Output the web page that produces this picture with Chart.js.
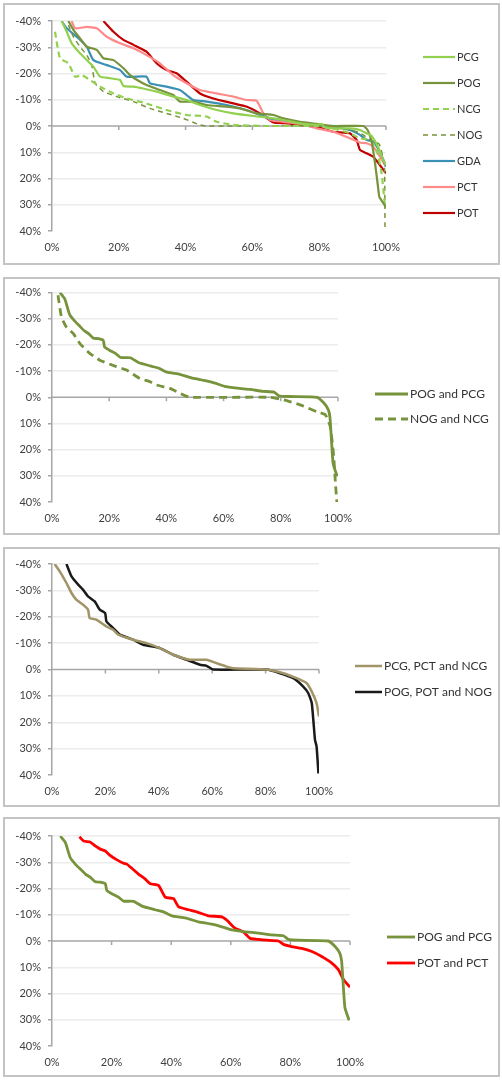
<!DOCTYPE html>
<html>
<head>
<meta charset="utf-8">
<script src="https://cdn.jsdelivr.net/npm/chart.js@4.4.0/dist/chart.umd.min.js"></script>
<style>
  body { margin: 0; background: #fff; width: 502px; height: 1080px; position: relative; overflow: hidden; }
  .panel { position: absolute; left: 3px; width: 493px; border: 2px solid #c4c4c4; background: #fff; }
  .panel canvas { display: block; }
</style>
</head>
<body>
<div class="panel" style="top:3px;height:258px"><canvas id="c1" width="493" height="258"></canvas></div>
<div class="panel" style="top:277px;height:254px"><canvas id="c2" width="493" height="254"></canvas></div>
<div class="panel" style="top:547px;height:256px"><canvas id="c3" width="493" height="256"></canvas></div>
<div class="panel" style="top:817px;height:256px"><canvas id="c4" width="493" height="256"></canvas></div>

<script>
/* ---------- Data (x = share of cases %, y = deviation %) ---------- */
const xTicks = [0, 20, 40, 60, 80, 100];
const yTicks = [-40, -30, -20, -10, 0, 10, 20, 30, 40];

// panel 1
const PCG = [[2.9,-40],[4.4,-35.9],[5.9,-31.5],[8.4,-27.7],[10.9,-24.5],[12.4,-22.6],[14.4,-18.8],[17.4,-18.2],[20.4,-17.5],[21.4,-15.2],[24.4,-15],[27.3,-14.3],[31.3,-13.1],[36.3,-11.2],[40.3,-9.9],[44.3,-8],[49.3,-6.1],[54.3,-4.8],[60.3,-3.8],[64.3,-3.3],[69.3,-2.3],[74.3,-1.0],[79.2,-0.4],[80.7,-0.8],[81.7,0.5],[84.2,0.9],[89.2,0.9],[92.2,1.5],[94.2,2.8],[95.7,3.8],[97.7,8.2],[99.2,13],[100,15]];
const POG = [[4.9,-40],[6.4,-36.6],[8.4,-33.4],[10.4,-30.2],[13.4,-29],[15.4,-25.8],[18.4,-25.1],[21.4,-22],[23.4,-19.4],[25.5,-17.5],[28.3,-15.6],[32.3,-13.7],[36.3,-11.8],[38.3,-9.3],[42.3,-9.3],[46.3,-8],[52.3,-7.4],[56.3,-6.7],[61.3,-4.8],[66.3,-4.2],[69.3,-2.9],[74.3,-1.6],[79.2,-0.8],[84.2,0],[93.2,0],[94.5,1.5],[95.7,6],[96.7,14],[97.5,22],[98,27],[99,29],[100,31]];
const NCG = [[0.9,-35.9],[2.4,-25.8],[4.9,-23.9],[6.9,-18.8],[8.9,-19.4],[11.4,-17.5],[14.4,-15],[18.4,-12.4],[22.4,-10.5],[28.3,-8.6],[34.3,-6.1],[40.3,-4.2],[46.3,-3.6],[49.3,-1.6],[54.3,-0.4],[64.3,0],[79.2,0],[84.2,0.9],[89.2,2.8],[92.2,4.7],[95.2,5.3],[97.2,9.1],[98.7,18],[99.7,30.7]];
const NOG = [[4.9,-38.5],[6.4,-34],[8.4,-30.2],[10.4,-27],[11.9,-23.2],[12.9,-16.3],[15.4,-13.1],[19.4,-11.2],[24.4,-9.3],[29.3,-6.7],[34.3,-4.8],[39.3,-2.9],[44.3,-0.4],[46.3,0],[84.2,0],[89.2,1.5],[92,2.5],[95,5],[98,7],[99.5,15],[99.7,40]];
const GDA = [[2.9,-40],[4.4,-37.2],[7.4,-34],[10.4,-30.2],[12.4,-25.1],[16.4,-23.2],[20.4,-21.3],[22.4,-18.8],[28.3,-18.8],[29.3,-16.3],[34.3,-15],[38.3,-13.7],[40.3,-11.8],[42.3,-9.9],[46.3,-9.3],[52.3,-8],[58.2,-6.1],[62.3,-4.2],[65.3,-2.9],[69.3,-2.3],[74.3,-1.3],[79.2,-0.4],[84.2,0.3],[89.2,1.5],[92.2,3.4],[94.2,5.3],[96.2,6],[98.2,9.8],[100,15.5]];
const PCT = [[5.9,-40],[6.9,-37.2],[10.4,-37.8],[13.4,-37.2],[16.4,-34],[20.4,-31.5],[24.4,-29.6],[28.3,-27],[32.3,-23.9],[36.3,-19.4],[40.3,-16.3],[44.3,-13.7],[49.3,-12.4],[54.3,-11.2],[58.2,-9.9],[61.3,-9.6],[63.3,-4.8],[65.3,-2.3],[69.3,-1.6],[74.3,-0.8],[79.2,0.9],[84.2,2.2],[89.2,4.7],[92.2,6.3],[94.2,6.6],[96.2,7.9],[98.2,11.7],[100,15.5]];
const POT = [[15.4,-40],[18.4,-35.9],[21.4,-32.8],[24.4,-30.9],[28.3,-28.3],[31.3,-23.9],[34.3,-21.3],[37.3,-20.1],[40.3,-16.9],[44.3,-12.4],[48.3,-10.5],[54.3,-8.6],[58.2,-7.4],[62.3,-4.8],[66.3,-1.3],[70.3,-1.0],[74.3,-0.4],[79.2,0.3],[84.2,2.2],[89.2,2.8],[91.2,5.3],[92.2,9.1],[94.2,10.4],[96.2,11.7],[100,18]];

// panels 2 and 4
const POG_PCG = [[2.8,-40],[4.5,-37.5],[6.1,-31.8],[7.8,-29.3],[9.5,-27.4],[11.2,-25.5],[12.8,-24.3],[14.5,-22.6],[16.2,-22.4],[17.9,-21.8],[18.4,-19.2],[20.1,-18],[22.3,-16.7],[24,-15.2],[27.4,-15.1],[30.2,-13.3],[34.6,-11.9],[37.4,-11.1],[40.2,-9.6],[44.7,-8.8],[49.2,-7.3],[53.6,-6.4],[57,-5.4],[60.3,-4.2],[64.8,-3.5],[69.3,-3],[73.7,-2.3],[77.7,-2.0],[79.3,-0.6],[82.7,-0.3],[92.7,0],[95,2.1],[96.6,4.7],[97.2,7.8],[97.8,17.9],[98.3,25.4],[99.7,30.2]];
const NOG_NCG = [[2.1,-39],[3.3,-30.7],[5,-26.9],[7.4,-24.4],[9.7,-20.6],[13.2,-16.8],[16.7,-14.2],[22.5,-11.7],[26.1,-10.4],[30.7,-7.2],[34.2,-6],[36.6,-4.7],[41.2,-3.4],[46,-0.9],[48.2,0],[76.3,0],[81,1],[86.8,2.9],[92.6,5.5],[95.6,6.7],[97.3,11.2],[98.5,22.6],[99.1,32.8],[99.6,40]];
const POT_PCT = [[9.2,-39.7],[10.6,-38.1],[12.8,-37.7],[14.5,-36.2],[16.2,-35],[17.9,-34.3],[19.6,-32.5],[21.8,-30.9],[24,-29.6],[25.1,-29.3],[26.8,-27.7],[29,-25.5],[31.3,-23.6],[33,-21.8],[35.8,-21.1],[38,-16.7],[40.8,-16.1],[42.5,-13],[45.8,-11.9],[48.6,-11.1],[52.5,-9.6],[57,-9.2],[58.7,-7.9],[61.5,-4.8],[64.2,-3.5],[66.5,-1.0],[69.3,-0.6],[72.1,-0.3],[76,0],[77.7,1.3],[80.4,2.1],[83.8,2.8],[87.2,4.0],[90.5,5.9],[93.9,8.4],[96.1,10.9],[97.8,14.7],[100,17.6]];

// panel 3
const PCG_PCT_NCG = [[1,-40],[2.9,-37.2],[5.4,-32.8],[7.3,-29],[9.1,-26.5],[11.6,-24.6],[13.5,-22.7],[14.1,-19.5],[16.6,-18.9],[20.4,-16.3],[22.9,-15.1],[24.8,-13.2],[30.4,-11.3],[35.4,-10],[40.4,-8.1],[45.4,-5.6],[51.6,-3.7],[57.9,-3.7],[61.6,-2.4],[65.4,-1.1],[67.9,-0.5],[80.4,0],[86.6,1.4],[91.6,3.3],[95.4,5.2],[97.3,8.4],[99.1,12.8],[100,17.8]];
const POG_POT_NOG = [[5.4,-40],[7.3,-35.3],[9.8,-32.2],[11.6,-30.3],[13.5,-27.7],[16,-25.8],[17.9,-22.7],[19.9,-21.4],[20.4,-18.2],[22.9,-15.7],[25.4,-13.2],[30.4,-11.3],[34.1,-9.4],[40.4,-8.1],[45.4,-5.6],[50.4,-3.7],[55.4,-1.8],[57.9,-1.4],[60.4,0],[80.4,0],[85.4,1.4],[90.4,3.3],[94.1,6.5],[96,9],[97.3,12.8],[98.5,26.7],[99.1,29.2],[99.8,39.4]];

/* ---------- Plugins ---------- */

// zero axis line with small tick marks, like the spreadsheet original
const zeroAxis = {
    id: 'zeroAxis',
    beforeDatasetsDraw(chart) {
        const { ctx, chartArea, scales } = chart;
        const y0 = scales.y.getPixelForValue(0);
        ctx.save();
        ctx.strokeStyle = '#a6a6a6';
        ctx.lineWidth = 1.5;
        ctx.beginPath();
        ctx.moveTo(chartArea.left, y0);
        ctx.lineTo(chartArea.right, y0);
        xTicks.slice(1).forEach(v => {
            const x = scales.x.getPixelForValue(v);
            ctx.moveTo(x, y0);
            ctx.lineTo(x, y0 + 4);
        });
        ctx.stroke();
        ctx.restore();
    }
};

// legend to the right with line samples
const sideLegend = {
    id: 'sideLegend',
    afterDraw(chart, args, opts) {
        const ctx = chart.ctx;
        ctx.save();
        ctx.font = opts.size + 'px Lato, sans-serif';
        ctx.textBaseline = 'middle';
        chart.data.datasets.forEach((ds, i) => {
            const y = opts.y + i * opts.gap;
            ctx.strokeStyle = ds.borderColor;
            ctx.lineWidth = ds.borderWidth;
            ctx.setLineDash(ds.borderDash || []);
            ctx.beginPath();
            ctx.moveTo(opts.x, y);
            ctx.lineTo(opts.x + opts.len, y);
            ctx.stroke();
            ctx.setLineDash([]);
            ctx.fillStyle = '#333';
            ctx.fillText(ds.label, opts.x + opts.len + 2, y);
        });
        ctx.restore();
    }
};

function line(label, data, color, width, dash) {
    return {
        label: label,
        data: data.map(p => ({ x: p[0], y: p[1] })),
        borderColor: color,
        borderWidth: width,
        borderDash: dash || [],
        pointRadius: 0,
        tension: 0.15,
        fill: false
    };
}

function makeChart(id, datasets, lay) {
    new Chart(document.getElementById(id), {
        type: 'line',
        data: { datasets: datasets },
        plugins: [zeroAxis, sideLegend],
        options: {
            responsive: false,
            animation: false,
            layout: { padding: { top: lay.top, right: lay.right, left: 0, bottom: 0 } },
            plugins: {
                legend: { display: false },
                tooltip: { enabled: false },
                sideLegend: lay.legend
            },
            scales: {
                x: {
                    type: 'linear', min: 0, max: 100,
                    afterBuildTicks: s => { s.ticks = xTicks.map(v => ({ value: v })); },
                    afterFit: s => { s.height = lay.xh; },
                    grid: { display: false, drawTicks: false },
                    border: { display: false },
                    ticks: { padding: lay.xpad, color: '#404040', font: { family: 'Lato', size: 11 }, maxRotation: 0, callback: v => v + '%' }
                },
                y: {
                    type: 'linear', min: -40, max: 40, reverse: true,
                    afterBuildTicks: s => { s.ticks = yTicks.map(v => ({ value: v })); },
                    afterFit: s => { s.width = 47; },
                    grid: {
                        color: c => (c.tick && (c.tick.value === 0 || c.tick.value === 40)) ? 'rgba(0,0,0,0)' : '#ececec',
                        lineWidth: 1.5,
                        tickColor: '#a6a6a6',
                        tickLength: 4
                    },
                    border: { display: true, color: '#a6a6a6', width: 1.5 },
                    ticks: { padding: 7, color: '#404040', font: { family: 'Lato', size: 11 }, callback: v => v + '%' }
                }
            }
        }
    });
}

/* ---------- Panels ---------- */
makeChart('c1', [
    line('PCG', PCG, '#92d050', 2.2),
    line('POG', POG, '#77933c', 2.2),
    line('NCG', NCG, '#92d050', 2.2, [6, 4]),
    line('NOG', NOG, '#77933c', 1.5, [5, 4]),
    line('GDA', GDA, '#3a91b5', 2.2),
    line('PCT', PCT, '#ff8a8a', 2.2),
    line('POT', POT, '#c00000', 2.2)
], { top: 16, right: 112, xh: 32, xpad: 10, legend: { x: 418, len: 32, y: 52, gap: 26, size: 11 } });

makeChart('c2', [
    line('POG and PCG', POG_PCG, '#77933c', 2.8),
    line('NOG and NCG', NOG_NCG, '#77933c', 2.8, [8, 5])
], { top: 13, right: 160, xh: 31, xpad: 10, legend: { x: 370, len: 33, y: 115, gap: 25, size: 12 } });

makeChart('c3', [
    line('PCG, PCT and NCG', PCG_PCT_NCG, '#a09468', 2.5),
    line('POG, POT and NOG', POG_POT_NOG, '#1a1a1a', 2.5)
], { top: 15, right: 179, xh: 30, xpad: 10, legend: { x: 350, len: 27, y: 117, gap: 26, size: 12 } });

makeChart('c4', [
    line('POG and PCG', POG_PCG, '#77933c', 2.8),
    line('POT and PCT', POT_PCT, '#ff0000', 2.8)
], { top: 17, right: 148, xh: 29, xpad: 10, legend: { x: 382, len: 28, y: 118, gap: 26, size: 12 } });
</script>
</body>
</html>
